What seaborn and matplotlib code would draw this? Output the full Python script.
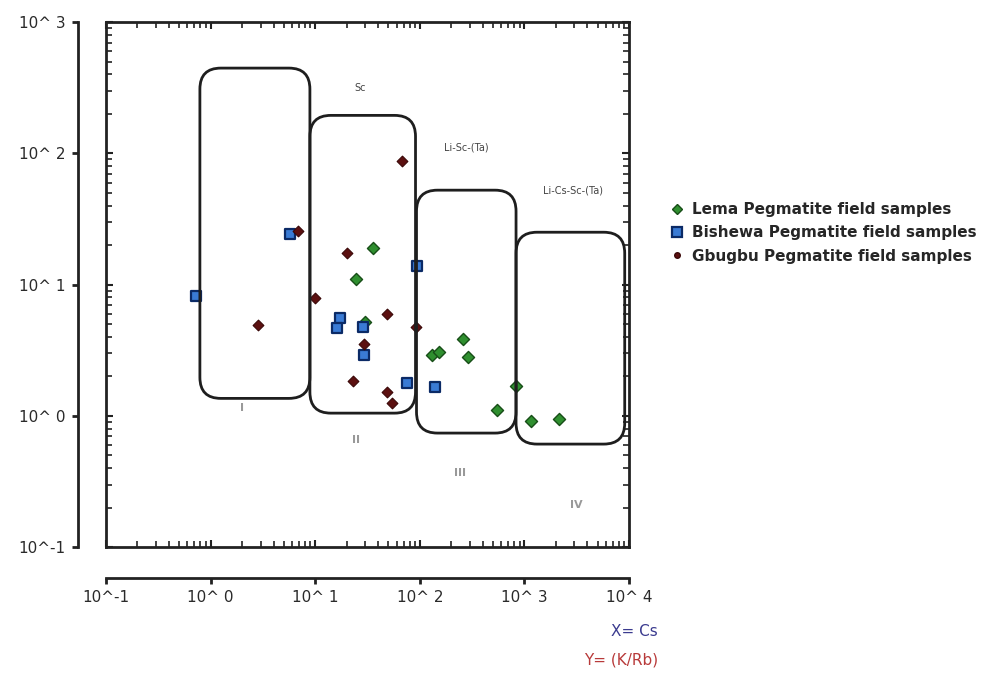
#!/usr/bin/env python

import numpy as np
import pandas as pd
import seaborn as sns
import matplotlib
matplotlib.use("Agg")
import matplotlib.pyplot as plt
from matplotlib.patches import FancyBboxPatch
from matplotlib.lines import Line2D
from matplotlib.ticker import FixedLocator, FixedFormatter, LogLocator, NullFormatter

# Cs (x) and K/Rb (y)
lema_cs = [35.7, 24.5, 29.9, 131, 153, 259, 289, 832, 547, 1156, 2143]
lema_krb = [19.0, 11.0, 5.18, 2.90, 3.06, 3.85, 2.81, 1.69, 1.11, 0.91, 0.945]

bishewa_cs = [5.74, 0.724, 94, 17.3, 16.2, 28.6, 29.3, 75.5, 140]
bishewa_krb = [24.3, 8.17, 13.8, 5.56, 4.67, 4.74, 2.90, 1.78, 1.66]

gbugbu_cs = [6.85, 9.95, 2.84, 67.6, 20.1, 48.5, 92, 29.3, 23.0, 48.5, 54.2]
gbugbu_krb = [25.6, 7.89, 4.91, 87.3, 17.4, 5.96, 4.74, 3.52, 1.84, 1.52, 1.25]

groups = ["Lema Pegmatite field samples",
          "Bishewa Pegmatite field samples",
          "Gbugbu Pegmatite field samples"]

# field outlines: (Cs min, Cs max, K/Rb min, K/Rb max)
fields = [(0.79, 8.9, 1.36, 447),
          (8.9, 91, 1.05, 195),
          (93, 832, 0.74, 52.5),
          (832, 9100, 0.61, 25.1)]
field_names = ["Sc", "Li-Sc-(Ta)", "Li-Cs-Sc-(Ta)"]
field_numbers = ["I", "II", "III", "IV"]

x_ticks = [0.1, 1, 10, 100, 1000, 10000]
x_labels = ["10^-1", "10^ 0", "10^ 1", "10^ 2", "10^ 3", "10^ 4"]
y_ticks = [0.1, 1, 10, 100, 1000]
y_labels = ["10^-1", "10^ 0", "10^ 1", "10^ 2", "10^ 3"]


def build_frame():
    df = pd.concat([
        pd.DataFrame({"Cs": lema_cs, "KRb": lema_krb, "group": groups[0]}),
        pd.DataFrame({"Cs": bishewa_cs, "KRb": bishewa_krb, "group": groups[1]}),
        pd.DataFrame({"Cs": gbugbu_cs, "KRb": gbugbu_krb, "group": groups[2]}),
    ], ignore_index=True)
    return df


def create_plot(df):
    sns.set_style("white")
    plt.rcParams["font.family"] = ["DejaVu Sans"]

    fig = plt.figure(figsize=(10, 6.73), dpi=100)
    rect = [0.106, 0.187, 0.523, 0.780]

    # detached outer axes with the labelled decades
    outer = fig.add_axes(rect)
    outer.set_facecolor("none")
    outer.set_xscale("log")
    outer.set_yscale("log")
    outer.set_xlim(0.1, 10000)
    outer.set_ylim(0.1, 1000)
    for side in ["top", "right"]:
        outer.spines[side].set_visible(False)
    outer.spines["left"].set_position(("outward", 20))
    outer.spines["bottom"].set_position(("outward", 22))
    for side in ["left", "bottom"]:
        outer.spines[side].set_linewidth(2)
        outer.spines[side].set_color("#222222")
    outer.xaxis.set_major_locator(FixedLocator(x_ticks))
    outer.xaxis.set_major_formatter(FixedFormatter(x_labels))
    outer.yaxis.set_major_locator(FixedLocator(y_ticks))
    outer.yaxis.set_major_formatter(FixedFormatter(y_labels))
    outer.minorticks_off()
    outer.tick_params(which="major", direction="out", length=4, width=2,
                      bottom=True, left=True, top=False, right=False,
                      color="#222222", labelsize=11, labelcolor="#2a2a2a", pad=5)

    # inner framed plot
    ax = fig.add_axes(rect)
    ax.set_xscale("log")
    ax.set_yscale("log")

    styles = {
        groups[0]: dict(marker="D", s=38, color="#2f8f2f", edgecolor="#174d17", linewidth=1.0),
        groups[1]: dict(marker="s", s=55, color="#3a7bd5", edgecolor="#0b2a66", linewidth=1.6),
        groups[2]: dict(marker="D", s=30, color="#5c1010", edgecolor="#3a0808", linewidth=0.8),
    }
    for g in groups:
        sns.scatterplot(data=df[df["group"] == g], x="Cs", y="KRb", ax=ax,
                        legend=False, zorder=2, **styles[g])

    ax.set_xlim(0.1, 10000)
    ax.set_ylim(0.1, 1000)
    ax.set_xlabel("")
    ax.set_ylabel("")
    for side in ax.spines.values():
        side.set_linewidth(2)
        side.set_color("#222222")
    ax.xaxis.set_minor_locator(LogLocator(base=10, subs=np.arange(2, 10)))
    ax.yaxis.set_minor_locator(LogLocator(base=10, subs=np.arange(2, 10)))
    ax.xaxis.set_minor_formatter(NullFormatter())
    ax.yaxis.set_minor_formatter(NullFormatter())
    ax.tick_params(which="both", direction="in", top=True, right=True,
                   bottom=True, left=True,
                   labelbottom=False, labelleft=False, color="#222222")
    ax.tick_params(which="major", length=5, width=1.5)
    ax.tick_params(which="minor", length=4, width=1.2)

    # rounded field outlines, drawn in axes fractions from the log bounds
    for x0, x1, y0, y1 in fields:
        fx0 = (np.log10(x0) + 1) / 5
        fx1 = (np.log10(x1) + 1) / 5
        fy0 = (np.log10(y0) + 1) / 4
        fy1 = (np.log10(y1) + 1) / 4
        box = FancyBboxPatch((fx0, fy0), fx1 - fx0, fy1 - fy0,
                             boxstyle="round,pad=0,rounding_size=0.04",
                             transform=ax.transAxes, fill=False,
                             lw=2.0, ec="#1e1e1e", zorder=3)
        ax.add_patch(box)

    name_pos = [(0.486, 0.874), (0.688, 0.762), (0.893, 0.68)]
    for name, (tx, ty) in zip(field_names, name_pos):
        ax.text(tx, ty, name, transform=ax.transAxes, fontsize=7,
                color="#444444", ha="center", va="center")
    num_pos = [(0.26, 0.265), (0.478, 0.204), (0.677, 0.141), (0.90, 0.08)]
    for num, (tx, ty) in zip(field_numbers, num_pos):
        ax.text(tx, ty, num, transform=ax.transAxes, fontsize=8, fontweight="bold",
                color="#999999", ha="center", va="center")

    handles = [
        Line2D([], [], ls="", marker="D", ms=5, mfc="#2f8f2f", mec="#174d17"),
        Line2D([], [], ls="", marker="s", ms=7, mfc="#3a7bd5", mec="#0b2a66", mew=1.6),
        Line2D([], [], ls="", marker="o", ms=4, mfc="#5c1010", mec="#3a0808"),
    ]
    fig.legend(handles, groups, loc="center left", bbox_to_anchor=(0.657, 0.654),
               frameon=False, handlelength=0.8, handletextpad=0.6, labelspacing=0.55,
               prop={"size": 11, "weight": "bold"})

    fig.text(0.658, 0.061, "X= Cs", color="#3b3b8f", fontsize=11, ha="right", va="center")
    fig.text(0.658, 0.019, "Y= (K/Rb)", color="#b83a3a", fontsize=11, ha="right", va="center")

    plt.savefig("out.png", dpi=100)
    plt.close()


def main():
    df = build_frame()
    create_plot(df)


if __name__ == '__main__':
    main()
